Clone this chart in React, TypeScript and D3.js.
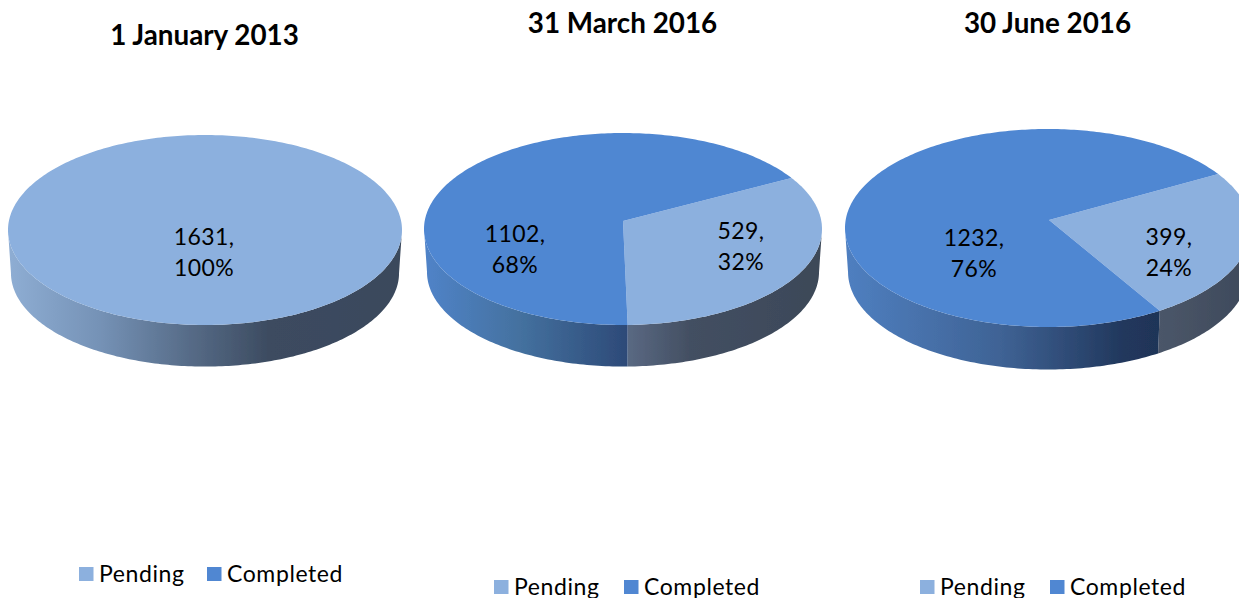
import React from "react";
import * as d3 from "d3";

const titles = ["1 January 2013", "31 March 2016", "30 June 2016"];
const seriesNames = ["Pending", "Completed"];
const pendingValues = [1631, 529, 399];
const completedValues = [0, 1102, 1232];
const pendingShares = ["100%", "32%", "24%"];
const completedShares = ["0%", "68%", "76%"];

const COLORS = ["#8cb0de", "#5087d2"];
const FONT = "Lato, 'Open Sans', sans-serif";
const deg = (d: number) => (d * Math.PI) / 180;

// Layout of each chart panel (pixels)
const panels = [
  { cx: 205, cy: 230, rx: 197, ry: 95, apexX: 205, apexY: 230, depth: 43, start: 0,
    titleX: 204.5, titleY: 45,
    labels: [[204, 245], [0, 0]],
    legendX: [79, 207], legendY: 567,
    sides: [[[10, "#8eadd3"], [100, "#7592b6"], [190, "#566b87"], [270, "#3c4b60"], [400, "#3a485c"]], []] },
  { cx: 623, cy: 229, rx: 199, ry: 96, apexX: 623, apexY: 221, depth: 43, start: deg(62),
    titleX: 622.5, titleY: 33,
    labels: [[741, 239], [515, 242]],
    legendX: [494, 624], legendY: 580,
    sides: [[[627, "#5a6983"], [690, "#434f62"], [820, "#3c4858"]], [[425, "#5083c8"], [520, "#44719f"], [627, "#2d4a78"]]] },
  { cx: 1048, cy: 228, rx: 203, ry: 99, apexX: 1049, apexY: 220, depth: 44, start: deg(61),
    titleX: 1047.5, titleY: 33,
    labels: [[1169, 245], [974, 246]],
    legendX: [920, 1050], legendY: 580,
    sides: [[[1158, "#4b5669"], [1260, "#3c4859"]], [[846, "#4f7fc0"], [1000, "#3f6395"], [1125, "#21375c"], [1160, "#1f3558"]]] },
];

function project(theta: number, p: (typeof panels)[number], shrink = 1, dy = 0): [number, number] {
  const a = (p.apexY - p.cy) / p.ry;
  const x = Math.sin(theta);
  const y = -Math.cos(theta);
  const w = 1 + a * y;
  const px = (x * Math.sqrt(1 - a * a)) / w;
  const py = (y + a) / w;
  return [p.cx + px * p.rx * shrink, p.cy + py * p.ry * shrink + dy];
}

function sampleAngles(a0: number, a1: number) {
  const n = Math.max(2, Math.ceil(((a1 - a0) * 180) / Math.PI));
  return d3.range(n + 1).map((i) => a0 + ((a1 - a0) * i) / n);
}

const lineGen = d3.line<[number, number]>();

function Pie({ index }: { index: number }) {
  const p = panels[index];
  const values = [pendingValues[index], completedValues[index]];
  const shares = [pendingShares[index], completedShares[index]];
  const arcs = d3
    .pie<number>()
    .sort(null)
    .startAngle(p.start)
    .endAngle(p.start + 2 * Math.PI)(values);

  return (
    <g>
      <g filter="url(#soft)">
        {arcs.map((arc, i) => {
          if (arc.value === 0) return null;
          const front = sampleAngles(arc.startAngle, arc.endAngle).filter(
            (t) => project(t, p)[1] >= p.cy - 1
          );
          if (front.length < 2) return null;
          const top = front.map((t) => project(t, p));
          const bottom = front.map((t) => project(t, p, 0.985, p.depth)).reverse();
          const id = `side-${index}-${i}`;
          const stops = p.sides[i] as [number, string][];
          const x0 = stops[0][0];
          const x1 = stops[stops.length - 1][0];
          return (
            <g key={id}>
              <defs>
                <linearGradient id={id} gradientUnits="userSpaceOnUse" x1={x0} x2={x1} y1={0} y2={0}>
                  {stops.map(([x, c]) => (
                    <stop key={x} offset={(x - x0) / (x1 - x0)} stopColor={c} />
                  ))}
                </linearGradient>
              </defs>
              <path d={lineGen([...top, ...bottom]) + "Z"} fill={`url(#${id})`} />
            </g>
          );
        })}
        {arcs.map((arc, i) => {
          if (arc.value === 0) return null;
          const rim = sampleAngles(arc.startAngle, arc.endAngle).map((t) => project(t, p));
          const d = lineGen([[p.apexX, p.apexY] as [number, number], ...rim]) + "Z";
          return <path key={i} d={d} fill={COLORS[i]} />;
        })}
      </g>
      {arcs.map((arc, i) => {
        if (arc.value === 0) return null;
        const [lx, ly] = p.labels[i];
        return (
          <text key={i} x={lx} y={ly} textAnchor="middle" fontFamily={FONT} fontSize={23} fill="#000" letterSpacing={0.4}>
            <tspan x={lx}>{`${arc.value},`}</tspan>
            <tspan x={lx} dy={31}>{shares[i]}</tspan>
          </text>
        );
      })}
      <text x={p.titleX} y={p.titleY} textAnchor="middle" fontFamily={FONT} fontWeight={700} fontSize={27.8} fill="#000">
        {titles[index]}
      </text>
      {seriesNames.map((name, i) => (
        <g key={name}>
          <rect x={p.legendX[i]} y={p.legendY} width={14.5} height={14} fill={COLORS[i]} />
          <text x={p.legendX[i] + 20} y={p.legendY + 15} fontFamily={FONT} fontSize={23} letterSpacing={0.6} fill="#000">
            {name}
          </text>
        </g>
      ))}
    </g>
  );
}

export default function App() {
  return (
    <svg
      width={1239}
      height={598}
      viewBox="0 0 1239 598"
      style={{ position: "absolute", left: 0, top: 0, display: "block", background: "#fff" }}
    >
      <defs>
        <filter id="soft" x="-5%" y="-5%" width="110%" height="110%">
          <feGaussianBlur stdDeviation={0.6} />
        </filter>
      </defs>
      {panels.map((_, i) => (
        <Pie key={i} index={i} />
      ))}
    </svg>
  );
}
